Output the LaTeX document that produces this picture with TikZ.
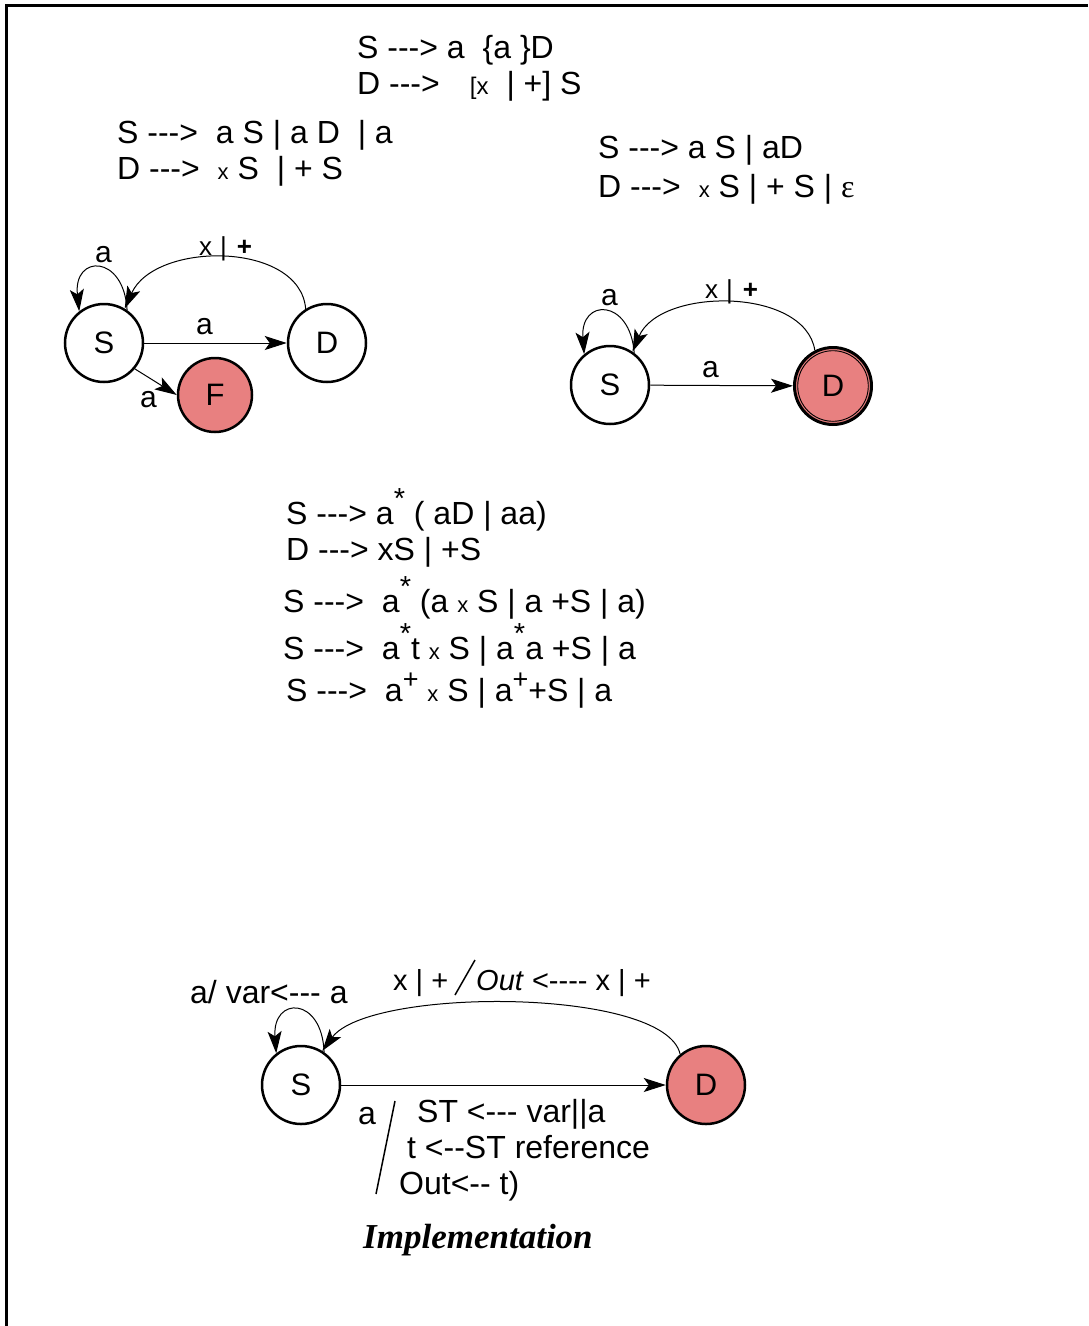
\documentclass[tikz,border=0pt]{standalone}
\usepackage{fontspec}
\setmainfont{Liberation Sans}[Ligatures=TeXOff]
\newfontfamily\serifbi{Liberation Serif}[Ligatures=TeXOff]
\usetikzlibrary{arrows.meta}
\definecolor{salmon}{RGB}{232,128,128}
\newcommand\myfs[1]{\fontsize{#1}{#1}\selectfont}
\newcommand\supstar{\raisebox{16pt}{\myfs{29}*}}
\newcommand\supplus{\raisebox{13pt}{\myfs{27}+}}
\newcommand\smx{{\myfs{22}x}}
\begin{document}
\begin{tikzpicture}[x=1pt,y=-1pt,
  txt/.style={inner sep=0pt, anchor=base west, font=\myfs{32}},
  lbl/.style={inner sep=0pt, anchor=base west, font=\myfs{30}},
  state/.style={circle, draw, line width=2.5pt, minimum size=78pt, inner sep=0pt, font=\myfs{31}},
  accept/.style={state, fill=salmon},
  edge/.style={line width=1pt, -{Stealth[length=22pt,width=14pt,inset=5pt]}},
  frame/.style={line width=3pt}]
\useasboundingbox (0,0) rectangle (1088,1326);
% frame
\draw[frame] (1088,5.5) -- (6.5,5.5) -- (6.5,1326);

% top grammar
\node[txt] (t1) at (357,58) {S ---> a\hspace{9pt} \{a \}D};
\node[txt] (t2) at (357,94) {D --->\hspace{30pt}{\myfs{24}[x}\hspace{18pt}| +] S};
% left grammar
\node[txt] (g1) at (117,143) {S --->\hspace{9pt} a S | a D\hspace{9pt} | a};
\node[txt] (g2) at (117,179) {D --->\hspace{9pt} \smx\ S\hspace{9pt} | + S};
% right grammar
\node[txt] (h1) at (598,158) {S ---> a S | aD};
\node[txt] (h2) at (598,197) {D --->\hspace{9pt} \smx\ S | + S | {\serifbi ε}};

% left FSM
\node[state] (S1) at (104,343) {S};
\node[state] (D1) at (327,343) {D};
\node[accept, minimum size=74pt] (F1) at (215,395) {F};
\draw[edge] (S1.55) .. controls (124,254) and (73,254) .. (S1.128);
\draw[edge] (D1.122) .. controls (300,241) and (155,241) .. (S1.59);
\draw[edge] (S1) -- (D1);
\draw[edge] (S1.-40) -- (F1.west);
\node[lbl] (la1) at (95,262) {a};
\node[lbl] (la2) at (196,334) {a};
\node[lbl] (la3) at (140,407) {a};
\node[lbl, font=\myfs{26}] (lx1) at (199,255) {x\hspace{8pt}|\hspace{10pt}\textbf{+}};

% right FSM
\node[state] (S2) at (610,385) {S};
\node[accept, line width=3pt, minimum size=77pt] (D2) at (833,386) {D};
\draw[line width=0.9pt] (D2.center) circle (35.3);
\draw[edge] (S2.53) .. controls (630,298) and (580,298) .. (S2.130);
\draw[edge] (D2.117) .. controls (805,287) and (660,287) .. (S2.56);
\draw[edge] (S2) -- (D2);
\node[lbl] (ra1) at (601,305) {a};
\node[lbl] (ra2) at (702,377) {a};
\node[lbl, font=\myfs{26}] (rx1) at (705,298) {x\hspace{8pt}|\hspace{10pt}\textbf{+}};

% middle grammar
\node[txt] (m1) at (286,524) {S ---> a\supstar\ ( aD | aa)};
\node[txt] (m2) at (286,560) {D ---> xS | +S};
\node[txt] (m3) at (283,612) {S --->\hspace{9pt} a\supstar\ (a \smx\ S | a +S | a)};
\node[txt] (m4) at (283,659) {S --->\hspace{9pt} a\supstar t \smx\ S | a\supstar a +S | a};
\node[txt] (m5) at (286,701) {S --->\hspace{9pt} a\supplus\ \smx\ S | a\supplus+S | a};

% bottom FSM
\node[state] (S3) at (301,1085) {S};
\node[accept] (D3) at (706,1085) {D};
\draw[edge] (S3.55) .. controls (322,996) and (272,996) .. (S3.128);
\draw[edge] (D3.130) .. controls (665,987) and (369,987) .. (S3.58);
\draw[edge] (S3) -- (D3);
\node[txt] (b1) at (190,1003) {a/ var<--- a};
\node[txt, font=\myfs{29}] (b2) at (393,990) {x | +};
\coordinate (s1a) at (455,995);
\coordinate (s1b) at (475,960);
\draw[line width=1.5pt] (s1a) -- (s1b);
\node[txt, font=\myfs{29}] (b3) at (476,990) {\textit{Out} <---- x | +};
\node[txt] (b4) at (358,1124) {a};
\coordinate (s2a) at (376,1194);
\coordinate (s2b) at (395,1101);
\draw[line width=1.5pt] (s2a) -- (s2b);
\node[txt] (b5) at (417,1122) {ST <--- var||a};
\node[txt] (b6) at (407,1158) {t <--ST reference};
\node[txt] (b7) at (399,1194) {Out<-- t)};
\node[txt, font=\serifbi\bfseries\itshape\myfs{35}] (b8) at (363,1248) {Implementation};
\end{tikzpicture}
\end{document}
